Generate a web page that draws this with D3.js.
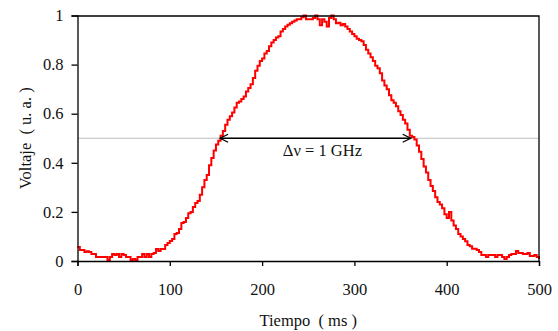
<!DOCTYPE html>
<html>
<head>
<meta charset="utf-8">
<script src="https://cdn.jsdelivr.net/npm/d3@7"></script>
<style>
    body { margin: 0; background: #fff; }
    svg text { font-family: "Liberation Serif", "Times New Roman", serif !important; fill: #111; white-space: pre; }
</style>
</head>
<body>
<div id="wrapper"></div>
<script>
// sample times (ms), one every 2.5 ms
const tiempo = [
    0, 2.5, 5, 7.5, 10, 12.5, 15, 17.5, 20, 22.5, 25, 27.5, 30, 32.5, 35, 37.5, 40, 42.5, 45, 47.5,
    50, 52.5, 55, 57.5, 60, 62.5, 65, 67.5, 70, 72.5, 75, 77.5, 80, 82.5, 85, 87.5, 90, 92.5, 95, 97.5,
    100, 102.5, 105, 107.5, 110, 112.5, 115, 117.5, 120, 122.5, 125, 127.5, 130, 132.5, 135, 137.5, 140, 142.5, 145, 147.5,
    150, 152.5, 155, 157.5, 160, 162.5, 165, 167.5, 170, 172.5, 175, 177.5, 180, 182.5, 185, 187.5, 190, 192.5, 195, 197.5,
    200, 202.5, 205, 207.5, 210, 212.5, 215, 217.5, 220, 222.5, 225, 227.5, 230, 232.5, 235, 237.5, 240, 242.5, 245, 247.5,
    250, 252.5, 255, 257.5, 260, 262.5, 265, 267.5, 270, 272.5, 275, 277.5, 280, 282.5, 285, 287.5, 290, 292.5, 295, 297.5,
    300, 302.5, 305, 307.5, 310, 312.5, 315, 317.5, 320, 322.5, 325, 327.5, 330, 332.5, 335, 337.5, 340, 342.5, 345, 347.5,
    350, 352.5, 355, 357.5, 360, 362.5, 365, 367.5, 370, 372.5, 375, 377.5, 380, 382.5, 385, 387.5, 390, 392.5, 395, 397.5,
    400, 402.5, 405, 407.5, 410, 412.5, 415, 417.5, 420, 422.5, 425, 427.5, 430, 432.5, 435, 437.5, 440, 442.5, 445, 447.5,
    450, 452.5, 455, 457.5, 460, 462.5, 465, 467.5, 470, 472.5, 475, 477.5, 480, 482.5, 485, 487.5, 490, 492.5, 495, 497.5,
    500
]
// measured voltage (a.u.)
const voltaje = [
    0.057, 0.045, 0.045, 0.037, 0.040, 0.037, 0.029, 0.029, 0.016, 0.016, 0.016, 0.016, 0.016, 0.004, 0.016, 0.029, 0.024, 0.029, 0.016, 0.029,
    0.024, 0.016, 0.016, 0.004, 0.008, 0.004, 0.016, 0.016, 0.029, 0.016, 0.029, 0.016, 0.029, 0.033, 0.049, 0.041, 0.049, 0.049, 0.065, 0.073,
    0.081, 0.090, 0.110, 0.114, 0.130, 0.155, 0.159, 0.175, 0.195, 0.200, 0.220, 0.236, 0.244, 0.270, 0.300, 0.330, 0.350, 0.390, 0.420, 0.450,
    0.475, 0.490, 0.510, 0.530, 0.555, 0.575, 0.590, 0.605, 0.625, 0.645, 0.650, 0.660, 0.670, 0.690, 0.705, 0.720, 0.745, 0.775, 0.795, 0.815,
    0.825, 0.845, 0.855, 0.875, 0.890, 0.900, 0.910, 0.915, 0.935, 0.945, 0.955, 0.962, 0.968, 0.975, 0.980, 0.985, 0.985, 0.993, 1.000, 0.985,
    0.985, 0.985, 0.990, 1.000, 0.985, 0.960, 0.985, 0.975, 0.955, 0.990, 1.000, 0.985, 0.968, 0.970, 0.960, 0.965, 0.955, 0.945, 0.935, 0.925,
    0.915, 0.905, 0.900, 0.895, 0.880, 0.860, 0.845, 0.830, 0.815, 0.795, 0.785, 0.765, 0.735, 0.715, 0.700, 0.675, 0.655, 0.645, 0.630, 0.610,
    0.595, 0.575, 0.560, 0.535, 0.510, 0.505, 0.495, 0.470, 0.445, 0.415, 0.385, 0.360, 0.330, 0.305, 0.285, 0.260, 0.240, 0.230, 0.215, 0.190,
    0.175, 0.200, 0.165, 0.145, 0.130, 0.110, 0.100, 0.090, 0.080, 0.065, 0.060, 0.050, 0.050, 0.045, 0.037, 0.024, 0.024, 0.016, 0.024, 0.024,
    0.024, 0.016, 0.024, 0.024, 0.016, 0.008, 0.016, 0.024, 0.029, 0.029, 0.041, 0.033, 0.033, 0.029, 0.029, 0.033, 0.020, 0.020, 0.024, 0.016,
    0.008
]
const xTicks = [0, 100, 200, 300, 400, 500]
const yTicks = [0, 0.2, 0.4, 0.6, 0.8, 1]
const halfLevel = 0.5
const fwhmStart = 154.5
const fwhmEnd = 361
const fwhmLabel = "Δν = 1 GHz"

const serif = "'Liberation Serif', 'Times New Roman', serif"

function drawChart() {
    const dataset = tiempo.map((t, i) => ({t: t, v: voltaje[i]}))
    const dimensions = {
        width: 558,
        height: 331,
        margin: {top: 15.5, right: 19, bottom: 70, left: 77.5},
    }
    dimensions.boundedWidth = dimensions.width - dimensions.margin.left - dimensions.margin.right
    dimensions.boundedHeight = dimensions.height - dimensions.margin.top - dimensions.margin.bottom

    const svg = d3.select("#wrapper")
        .append("svg")
        .attr("width", dimensions.width)
        .attr("height", dimensions.height)
    const bounds = svg.append("g")
        .attr("transform", `translate(${dimensions.margin.left},${dimensions.margin.top})`)

    const xScale = d3.scaleLinear().domain([0, 500]).range([0, dimensions.boundedWidth])
    const yScale = d3.scaleLinear().domain([0, 1]).range([dimensions.boundedHeight, 0])

    // half maximum reference line
    bounds.append("line")
        .attr("x1", 0).attr("x2", dimensions.boundedWidth)
        .attr("y1", yScale(halfLevel)).attr("y2", yScale(halfLevel))
        .attr("stroke", "#bdbdbd").attr("stroke-width", 1)

    // signal
    const line = d3.line()
        .x(d => xScale(d.t))
        .y(d => yScale(d.v))
        .curve(d3.curveStepAfter)
    bounds.append("path")
        .datum(dataset)
        .attr("d", line)
        .attr("fill", "none")
        .attr("stroke", "#ff0000")
        .attr("stroke-width", 2)

    // double arrow for the width
    const ya = yScale(halfLevel)
    const x1 = xScale(fwhmStart), x2 = xScale(fwhmEnd)
    bounds.append("line")
        .attr("x1", x1).attr("x2", x2).attr("y1", ya).attr("y2", ya)
        .attr("stroke", "#000").attr("stroke-width", 1.3)
    bounds.append("path")
        .attr("d", `M${x1 + 8},${ya - 4} L${x1},${ya} L${x1 + 8},${ya + 4}`
            + ` M${x2 - 8},${ya - 4} L${x2},${ya} L${x2 - 8},${ya + 4}`)
        .attr("fill", "none").attr("stroke", "#000").attr("stroke-width", 1.3)
    bounds.append("text")
        .attr("x", (x1 + x2) / 2 + 7)
        .attr("y", ya + 18)
        .attr("text-anchor", "middle")
        .style("font-family", serif)
        .style("font-size", "16.5px")
        .text(fwhmLabel)

    // frame (top and right)
    bounds.append("path")
        .attr("d", `M0,0.5 H${dimensions.boundedWidth} V${dimensions.boundedHeight}`)
        .attr("fill", "none").attr("stroke", "#000").attr("stroke-width", 1.3)

    const xAxis = bounds.append("g")
        .attr("transform", `translate(0,${dimensions.boundedHeight})`)
        .call(d3.axisBottom(xScale).tickValues(xTicks).tickSizeOuter(0).tickSize(5).tickPadding(17))
    const yAxis = bounds.append("g")
        .call(d3.axisLeft(yScale).tickValues(yTicks).tickFormat(d3.format("~g")).tickSizeOuter(0).tickSize(6).tickPadding(8))
    ;[xAxis, yAxis].forEach(a => {
        a.attr("font-family", null).attr("font-size", null)
        a.selectAll(".domain, .tick line").attr("stroke", "#000").attr("stroke-width", 1.3)
        a.selectAll("text")
            .style("font-family", serif)
            .style("font-size", "16.5px")
            .attr("fill", "#111")
    })

    svg.append("text")
        .attr("x", dimensions.margin.left + xScale(250))
        .attr("y", 326)
        .attr("text-anchor", "middle")
        .style("font-family", serif)
        .style("font-size", "16.5px")
        .text("Tiempo  ( ms )")
    svg.append("text")
        .attr("transform", `translate(31,${dimensions.margin.top + yScale(0.5)}) rotate(-90)`)
        .attr("text-anchor", "middle")
        .style("font-family", serif)
        .style("font-size", "16.5px")
        .text("Voltaje  ( u. a. )")
}

drawChart()
</script>
</body>
</html>
